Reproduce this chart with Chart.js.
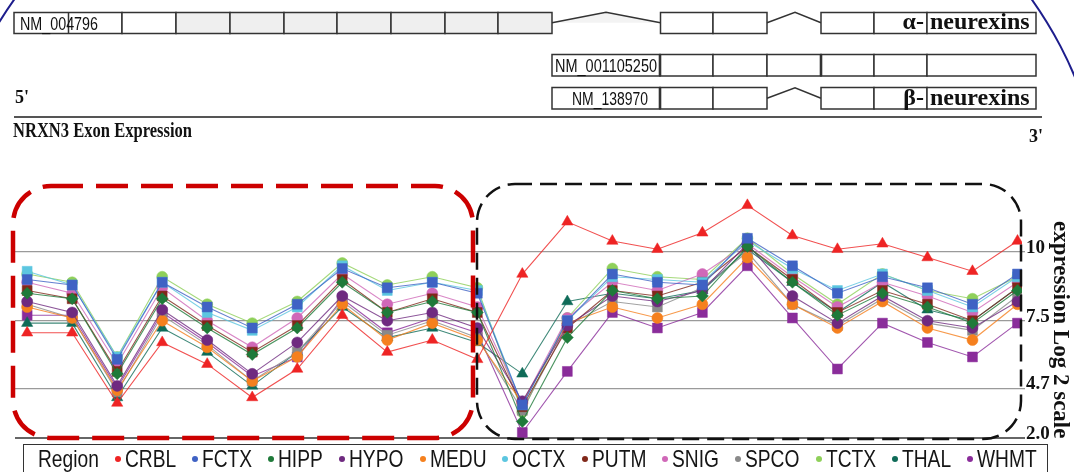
<!DOCTYPE html>
<html>
<head>
<meta charset="utf-8">
<script src="https://cdn.jsdelivr.net/npm/chart.js@4.4.1/dist/chart.umd.min.js"></script>
<style>
  html, body { margin: 0; padding: 0; background: #fff; }
  body { width: 1074px; height: 472px; position: relative; overflow: hidden; }
  #chart { position: absolute; left: 0; top: 170px; }
  #deco { position: absolute; left: 0; top: 0; z-index: 2; pointer-events: none; }
  #legend {
    position: absolute; left: 23px; top: 444px; width: 1025px; height: 40px;
    box-sizing: border-box; border: 1.5px solid #333; background: #fff; z-index: 3;
    display: flex; justify-content: space-between; align-items: flex-start;
    padding: 1px 10px 0 14px;
    font-family: "Liberation Sans", Arimo, sans-serif;
    font-size: 24px; line-height: 26px; color: #151515;
  }
  #legend .item { display: flex; align-items: center; white-space: nowrap; }
  #legend .lbl { display: inline-block; transform-origin: 0 50%; transform: scaleX(0.8); }
  #legend .dot { width: 6px; height: 6px; border-radius: 50%; margin-right: 4px; }
</style>
</head>
<body>
<canvas id="chart" width="1074" height="302"></canvas>

<svg id="deco" width="1074" height="472" xmlns="http://www.w3.org/2000/svg">
  <defs>
    <clipPath id="topband"><rect x="0" y="0" width="1074" height="100"/></clipPath>
  </defs>
  <!-- alpha neurexin transcript -->
  <g stroke="#333" stroke-width="1.5" fill="#fff">
    <rect x="14" y="12.5" width="108" height="21"/>
    <rect x="122" y="12.5" width="54" height="21"/>
    <g fill="#efefef">
      <rect x="176" y="12.5" width="54" height="21"/>
      <rect x="230" y="12.5" width="54" height="21"/>
      <rect x="284" y="12.5" width="53" height="21"/>
      <rect x="337" y="12.5" width="54" height="21"/>
      <rect x="391" y="12.5" width="54" height="21"/>
      <rect x="445" y="12.5" width="53" height="21"/>
      <rect x="498" y="12.5" width="54" height="21"/>
    </g>
    <line x1="68.5" y1="12.5" x2="68.5" y2="33.5"/>
    <polygon points="552,22.7 606,12.3 660.5,22.7" fill="#f3f3f3" stroke="none"/>
    <polyline points="552,22.7 606,12.3 660.5,22.7" fill="none"/>
    <rect x="660.5" y="12.5" width="52.5" height="21"/>
    <rect x="713" y="12.5" width="54" height="21"/>
    <polyline points="767,22.7 795,12.3 821,22.7" fill="none"/>
    <rect x="821" y="12.5" width="53" height="21"/>
    <rect x="874" y="12.5" width="53" height="21"/>
    <rect x="927" y="12.5" width="109" height="21"/>
  </g>
  <!-- NM_001105250 -->
  <g stroke="#333" stroke-width="1.5" fill="#fff">
    <rect x="552" y="54.5" width="108" height="21.5"/>
    <rect x="660" y="54.5" width="53" height="21.5"/>
    <rect x="713" y="54.5" width="54" height="21.5"/>
    <rect x="767" y="54.5" width="54" height="21.5"/>
    <rect x="821" y="54.5" width="53" height="21.5"/>
    <rect x="874" y="54.5" width="53" height="21.5"/>
    <rect x="927" y="54.5" width="109" height="21.5"/>
    <line x1="660" y1="54.5" x2="660" y2="76" stroke-width="2.6"/>
    <line x1="821" y1="54.5" x2="821" y2="76" stroke-width="2.6"/>
  </g>
  <!-- beta neurexin transcript -->
  <g stroke="#333" stroke-width="1.5" fill="#fff">
    <rect x="552" y="87.5" width="108" height="21.5"/>
    <rect x="660" y="87.5" width="53" height="21.5"/>
    <rect x="713" y="87.5" width="54" height="21.5"/>
    <polyline points="767,98.3 795,87.7 821,98.3" fill="none"/>
    <rect x="821" y="87.5" width="53" height="21.5"/>
    <rect x="874" y="87.5" width="53" height="21.5"/>
    <rect x="927" y="87.5" width="109" height="21.5"/>
    <line x1="660" y1="87.5" x2="660" y2="109" stroke-width="2.6"/>
  </g>
  <g font-family="'Liberation Sans', Arimo, sans-serif" font-size="18" fill="#111">
    <text x="20" y="30" textLength="78" lengthAdjust="spacingAndGlyphs">NM_004796</text>
    <text x="555" y="72" textLength="102" lengthAdjust="spacingAndGlyphs">NM_001105250</text>
    <text x="572" y="105" textLength="76" lengthAdjust="spacingAndGlyphs">NM_138970</text>
  </g>
  <g font-family="'Liberation Serif','Times New Roman',serif" font-weight="bold" fill="#111">
    <text x="924" y="29" font-size="24" text-anchor="end">α-</text>
    <text x="930" y="29" font-size="24">neurexins</text>
    <text x="924" y="105" font-size="24" text-anchor="end">β-</text>
    <text x="930" y="105" font-size="24">neurexins</text>
    <text x="15" y="103" font-size="18">5'</text>
    <text x="1029" y="142" font-size="18">3'</text>
    <text x="13" y="137" font-size="20" textLength="179" lengthAdjust="spacingAndGlyphs">NRXN3 Exon Expression</text>
    <text x="1054" y="221" font-size="23" transform="rotate(90 1054 221)">expression Log 2 scale</text>
  </g>
  <line x1="14" y1="117" x2="1042" y2="117" stroke="#555" stroke-width="2"/>

  <!-- highlight boxes -->
  <rect x="13" y="186" width="460" height="252" rx="38" fill="none" stroke="#cc0000" stroke-width="4.5" stroke-dasharray="32 13"/>
  <rect x="477" y="184" width="544" height="255" rx="38" fill="none" stroke="#111" stroke-width="2.5" stroke-dasharray="17 8"/>
  <ellipse cx="523" cy="207" rx="578" ry="437" fill="none" stroke="#1d1d8c" stroke-width="2" clip-path="url(#topband)"/>
</svg>

<div id="legend"></div>

<script>
// exons along NRXN3, 5' -> 3'
const exons = ['ex1', 'ex2', 'ex3', 'ex4', 'ex5', 'ex6', 'ex7', 'ex8', 'ex9', 'ex10', 'ex11', 'ex12',
               'ex13', 'ex14', 'ex15', 'ex16', 'ex17', 'ex18', 'ex19', 'ex20', 'ex21', 'ex22', 'ex23'];

const regions = ['CRBL', 'FCTX', 'HIPP', 'HYPO', 'MEDU', 'OCTX', 'PUTM', 'SNIG', 'SPCO', 'TCTX', 'THAL', 'WHMT'];

// log2 expression per exon
const crbl = [7.0, 7.0, 3.9, 6.6, 5.7, 4.2, 5.5, 7.7, 6.2, 6.7, 5.9, 9.2, 11.1, 10.4, 10.1, 10.7, 11.7, 10.6, 10.1, 10.3, 9.8, 9.3, 10.4];
const fctx = [9.0, 8.8, 5.9, 8.9, 8.0, 7.2, 8.1, 9.4, 8.7, 8.9, 8.5, 3.8, 7.5, 9.2, 8.9, 8.8, 10.5, 9.5, 8.5, 9.1, 8.7, 8.1, 9.2];
const hipp = [8.5, 8.3, 5.3, 8.3, 7.2, 6.1, 7.2, 8.9, 7.8, 8.2, 7.8, 2.9, 6.8, 8.6, 8.3, 8.4, 10.2, 8.9, 7.7, 8.5, 8.0, 7.4, 8.6];
const hypo = [8.2, 7.8, 4.8, 7.9, 6.7, 5.3, 6.6, 8.4, 7.5, 7.8, 7.2, 4.0, 7.3, 8.4, 8.2, 8.6, 10.3, 8.4, 7.4, 8.4, 7.5, 7.2, 8.2];
const medu = [8.0, 7.6, 4.6, 7.5, 6.4, 5.0, 6.0, 8.1, 6.7, 7.4, 6.7, 3.9, 7.4, 8.0, 7.6, 8.1, 9.8, 8.1, 7.2, 8.2, 7.2, 6.7, 8.1];
const octx = [9.3, 8.8, 6.0, 8.9, 7.8, 7.1, 8.0, 9.5, 8.6, 8.9, 8.6, 3.8, 7.5, 9.1, 9.0, 8.9, 10.4, 9.4, 8.6, 9.2, 8.6, 8.0, 9.1];
const putm = [8.6, 8.3, 5.4, 8.4, 7.3, 6.2, 7.3, 9.0, 7.8, 8.3, 7.8, 3.7, 7.2, 8.6, 8.4, 8.9, 10.2, 9.0, 7.8, 8.6, 8.1, 7.5, 8.7];
const snig = [8.9, 8.5, 5.7, 8.7, 7.5, 6.4, 7.6, 9.2, 8.1, 8.5, 8.0, 3.9, 7.6, 8.9, 8.6, 9.2, 10.3, 9.1, 8.0, 8.9, 8.4, 7.8, 8.9];
const spco = [8.1, 7.6, 4.5, 7.7, 6.5, 5.0, 6.2, 8.2, 6.9, 7.5, 6.8, 3.5, 7.3, 8.2, 8.0, 8.7, 10.0, 8.1, 7.3, 8.3, 7.4, 7.1, 8.4];
const tctx = [9.2, 8.9, 6.0, 9.1, 8.1, 7.4, 8.2, 9.6, 8.8, 9.1, 8.7, 3.4, 7.6, 9.4, 9.1, 9.0, 10.5, 9.2, 8.1, 9.2, 8.6, 8.3, 9.1];
const thal = [7.4, 7.4, 4.2, 7.2, 6.2, 4.8, 6.2, 8.0, 6.8, 7.2, 6.6, 5.3, 8.2, 8.5, 8.3, 8.6, 10.1, 8.9, 7.8, 8.9, 7.9, 7.5, 8.7];
const whmt = [7.7, 7.7, 4.7, 7.8, 6.6, 5.2, 6.0, 8.3, 7.0, 7.6, 7.0, 2.3, 5.4, 7.8, 7.2, 7.8, 9.5, 7.6, 5.5, 7.4, 6.6, 6.0, 7.4];

const series = [crbl, fctx, hipp, hypo, medu, octx, putm, snig, spco, tctx, thal, whmt];

// printed tick marks on the right axis
const tickValues = [2.0, 4.7, 7.5, 10];
const tickLabels = ['2.0', '4.7', '7.5', '10'];

const colors = ['#ee2424', '#3f62c4', '#1f7a3a', '#6f2a80', '#f5801e', '#5cc6e0',
                '#80281a', '#d068b8', '#8a8a8a', '#8fd05a', '#0f6b58', '#8a2c9a'];
const shapes = ['triangle', 'rect', 'rectRot', 'circle', 'circle', 'rect',
                'rect', 'circle', 'rect', 'circle', 'triangle', 'rect'];
const sizes = { triangle: 6.5, rect: 7, rectRot: 6, circle: 5.5 };

// the printed axis is not evenly spaced: ticks 2.0/4.7/7.5/10 sit at these offsets
const KNOT_V = [2.0, 4.7, 7.5, 10];
const KNOT_U = [0, 49.7, 117.3, 186];

function warp(v) {
    let i = 0;
    if (v >= KNOT_V[KNOT_V.length - 1]) i = KNOT_V.length - 2;
    else while (i < KNOT_V.length - 2 && v > KNOT_V[i + 1]) i++;
    const t = (v - KNOT_V[i]) / (KNOT_V[i + 1] - KNOT_V[i]);
    return KNOT_U[i] + t * (KNOT_U[i + 1] - KNOT_U[i]);
}
function unwarp(u) {
    let i = 0;
    if (u >= KNOT_U[KNOT_U.length - 1]) i = KNOT_U.length - 2;
    else while (i < KNOT_U.length - 2 && u > KNOT_U[i + 1]) i++;
    const t = (u - KNOT_U[i]) / (KNOT_U[i + 1] - KNOT_U[i]);
    return KNOT_V[i] + t * (KNOT_V[i + 1] - KNOT_V[i]);
}

class SegmentedScale extends Chart.LinearScale {
    getPixelForValue(value) {
        if (value === null || value === undefined) return NaN;
        const a = warp(this.min), b = warp(this.max);
        return this.getPixelForDecimal((warp(value) - a) / (b - a));
    }
    getValueForPixel(pixel) {
        const a = warp(this.min), b = warp(this.max);
        return unwarp(a + this.getDecimalForPixel(pixel) * (b - a));
    }
}
SegmentedScale.id = 'segmented';
SegmentedScale.defaults = Chart.LinearScale.defaults;
Chart.register(SegmentedScale);

const datasets = regions.map((name, k) => ({
    label: name,
    data: series[k].map((v, i) => ({ x: i, y: v })),
    borderColor: colors[k] + 'cc',
    backgroundColor: colors[k],
    borderWidth: 1.1,
    pointStyle: shapes[k],
    pointRadius: sizes[shapes[k]],
    pointBorderWidth: 0.5,
    pointBorderColor: colors[k],
    pointBackgroundColor: colors[k],
    tension: 0
}));

new Chart(document.getElementById('chart'), {
    type: 'line',
    data: { labels: exons, datasets: datasets },
    options: {
        responsive: false,
        animation: false,
        devicePixelRatio: 1,
        layout: { padding: { left: 15, right: 0, top: 15, bottom: 34 } },
        plugins: { legend: { display: false }, tooltip: { enabled: false } },
        scales: {
            x: {
                type: 'linear',
                display: false,
                min: -0.27,
                max: 22.1
            },
            y: {
                type: 'segmented',
                position: 'right',
                bounds: 'data',
                min: 2.0,
                max: 12.44,
                afterBuildTicks: (s) => { s.ticks = tickValues.map(v => ({ value: v })); },
                afterFit: (s) => { s.width = 52; },
                border: { display: false },
                grid: {
                    color: (c) => c.index === 0 ? '#666' : '#9a9a9a',
                    lineWidth: (c) => c.index === 0 ? 2 : 1.3,
                    drawTicks: true,
                    tickLength: 3
                },
                ticks: {
                    padding: 1,
                    labelOffset: -4,
                    color: '#111',
                    font: { family: "'Liberation Serif', 'Times New Roman', serif", size: 19, weight: 'bold' },
                    callback: (v, i) => tickLabels[i]
                }
            }
        }
    }
});

// legend row (labels squeezed to mimic a narrow sans)
const legend = document.getElementById('legend');
let html = '<span class="item"><span class="lbl">Region</span></span>';
regions.forEach((name, k) => {
    html += `<span class="item"><span class="dot" style="background:${colors[k]}"></span><span class="lbl">${name}</span></span>`;
});
legend.innerHTML = html;
legend.querySelectorAll('.lbl').forEach(el => {
    el.style.marginRight = (-0.2 * el.offsetWidth) + 'px';
});
</script>
</body>
</html>
